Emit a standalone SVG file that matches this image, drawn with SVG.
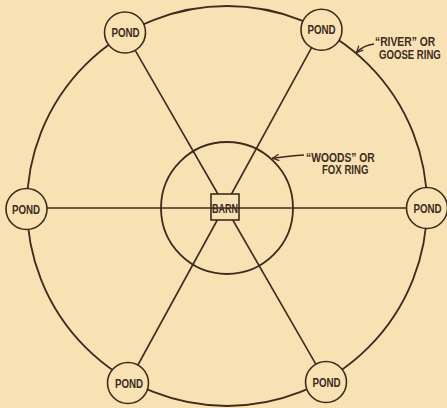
<svg xmlns="http://www.w3.org/2000/svg" width="447" height="408" viewBox="0 0 447 408">
<defs>
<style>
.bg{fill:#f8e2b4}
.ln{fill:none;stroke:#3c2b1e;stroke-width:1.6}
.ring{fill:none;stroke:#3c2b1e;stroke-width:1.8}
.pond{fill:#f8e2b4;stroke:#3c2b1e;stroke-width:1.6}
.t{font-family:"Liberation Sans",Arial,sans-serif;font-weight:bold;fill:#3c2b1e}
.pt{font-size:13px;text-anchor:middle}
.lt{font-size:12px}
</style>
<marker id="arr" viewBox="0 0 8 8" refX="7" refY="4" markerWidth="8" markerHeight="8" markerUnits="userSpaceOnUse" orient="auto">
<path d="M0.5,0.8 L7,4 L0.5,7.2" fill="none" stroke="#3c2b1e" stroke-width="1.3"/>
</marker>
</defs>
<rect class="bg" x="0" y="0" width="447" height="408"/>
<g id="river-ring"><circle class="ring" cx="227" cy="206" r="200"/></g>
<g id="woods-ring"><circle class="ring" cx="227" cy="208" r="66"/></g>
<g id="connectors">
<line class="ln" x1="47" y1="208" x2="406.5" y2="208"/>
<line class="ln" x1="135.2" y1="50.3" x2="217.9" y2="194"/>
<line class="ln" x1="232.8" y1="220" x2="315.8" y2="364.2"/>
<line class="ln" x1="311.6" y1="47.7" x2="231.5" y2="194"/>
<line class="ln" x1="217.3" y1="220" x2="137.9" y2="365"/>
</g>
<g id="pond-top-left"><circle class="pond" cx="125" cy="32.5" r="20.5"/><text class="t pt" transform="translate(125.5,37.3) scale(0.75,1)">POND</text></g>
<g id="pond-top-right"><circle class="pond" cx="321.5" cy="29.7" r="20.5"/><text class="t pt" transform="translate(321.5,34.4) scale(0.75,1)">POND</text></g>
<g id="pond-left"><circle class="pond" cx="26.5" cy="209" r="20.5"/><text class="t pt" transform="translate(26,213.7) scale(0.75,1)">POND</text></g>
<g id="pond-right"><circle class="pond" cx="427" cy="208" r="20.5"/><text class="t pt" transform="translate(427.5,212.7) scale(0.75,1)">POND</text></g>
<g id="pond-bottom-left"><circle class="pond" cx="128" cy="383" r="20.5"/><text class="t pt" transform="translate(129,387.7) scale(0.75,1)">POND</text></g>
<g id="pond-bottom-right"><circle class="pond" cx="326" cy="382" r="20.5"/><text class="t pt" transform="translate(326.5,386.7) scale(0.75,1)">POND</text></g>
<g id="barn"><rect class="ln" x="211" y="194" width="28" height="26"/><text class="t" font-size="12" text-anchor="middle" transform="translate(225,212.5) scale(0.75,1)">BARN</text></g>
<g id="label-river">
<path class="ln" d="M374,44 Q364,45 356.5,52.5" stroke-width="1.4" marker-end="url(#arr)"/>
<text class="t lt" transform="translate(375,46) scale(0.86,1)">“RIVER” OR</text>
<text class="t lt" transform="translate(379,58.5) scale(0.8,1)">GOOSE RING</text>
</g>
<g id="label-woods">
<path class="ln" d="M304,155 Q290,156 272.5,158.3" stroke-width="1.4" marker-end="url(#arr)"/>
<text class="t lt" transform="translate(306,161.5) scale(0.86,1)">“WOODS” OR</text>
<text class="t lt" transform="translate(322,174) scale(0.8,1)">FOX RING</text>
</g>
</svg>
